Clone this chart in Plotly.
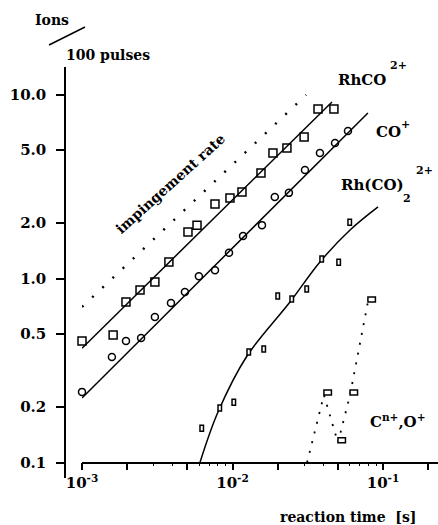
import plotly.graph_objects as go

# ---------------- data ----------------
rhco_t = [0.0010, 0.00161, 0.00196, 0.00243, 0.00305, 0.00378, 0.00506, 0.00581,
          0.00765, 0.00962, 0.01156, 0.01546, 0.01857, 0.0230, 0.0299, 0.0370, 0.0472]
rhco_v = [0.457, 0.493, 0.745, 0.866, 0.957, 1.23, 1.79, 1.95,
          2.54, 2.74, 2.95, 3.74, 4.81, 5.12, 5.87, 8.34, 8.34]

co_t = [0.0010, 0.00158, 0.00196, 0.00247, 0.00305, 0.0039, 0.00483, 0.00598, 0.00765,
        0.00948, 0.01175, 0.0157, 0.0191, 0.0237, 0.0303, 0.0381, 0.0480, 0.0585]
co_v = [0.242, 0.374, 0.457, 0.475, 0.618, 0.736, 0.845, 1.03, 1.11,
        1.38, 1.70, 1.95, 2.77, 2.92, 3.89, 4.81, 5.45, 6.33]

rhco2_t = [0.00608, 0.00801, 0.00993, 0.01248, 0.0157, 0.01945, 0.0241, 0.0303, 0.0381, 0.0494, 0.0585]
rhco2_v = [0.148, 0.1905, 0.205, 0.384, 0.399, 0.774, 0.745, 0.845, 1.23, 1.18, 1.95]

c_t = [0.0405, 0.0502, 0.0604, 0.0794]
c_v = [0.233, 0.128, 0.233, 0.745]

# guide lines
c_path_t = [0.0313, 0.0405, 0.0502, 0.0604, 0.0794]
c_path_v = [0.100, 0.233, 0.128, 0.233, 0.745]

rhco_fit_t = [0.0010, 0.0458]
rhco_fit_v = [0.418, 9.11]
co_fit_t = [0.0010, 0.0794]
co_fit_v = [0.224, 7.93]
imp_t = [0.0010, 0.0308]
imp_v = [0.70, 9.94]
rhco2_fit_t = [0.00608, 0.00801, 0.01248, 0.0241, 0.0381, 0.0604, 0.0927]
rhco2_fit_v = [0.100, 0.188, 0.379, 0.745, 1.23, 1.835, 2.45]

y_ticks = [0.1, 0.2, 0.5, 1, 2, 5, 10]
y_labels = ["0.1", "0.2", "0.5", "1.0", "2.0", "5.0", "10.0"]
x_decades = [1e-3, 1e-2, 1e-1]
x_labels = ["10<sup>-3</sup>", "10<sup>-2</sup>", "10<sup>-1</sup>"]
x_mid = [2e-3, 5e-3, 2e-2, 5e-2, 2e-1]
x_minor = [3e-3, 4e-3, 6e-3, 7e-3, 8e-3, 9e-3, 3e-2, 4e-2, 6e-2, 7e-2, 8e-2, 9e-2]

# ---------------- layout geometry ----------------
W, H = 438, 525
L, R, T, B = 65, 0, 67, 47
PW, PH = W - L - R, H - T - B
def px(x):
    return (x - L) / PW
def py(y):
    return (H - B - y) / PH

FONT = "DejaVu Serif"
BLACK = "black"
X_RANGE = [-3, -3 + 356 / 150.5]
X_DOMAIN = [(82 - L) / PW, 1]
X_POS = py(462.5)

fig = go.Figure()

line_style = dict(color=BLACK, width=1.5)
fig.add_trace(go.Scatter(x=imp_t, y=imp_v, mode="lines",
                         line=dict(color=BLACK, width=2.4, dash="2px,12px"), cliponaxis=False))
fig.add_trace(go.Scatter(x=rhco_fit_t, y=rhco_fit_v, mode="lines", line=line_style, cliponaxis=False))
fig.add_trace(go.Scatter(x=co_fit_t, y=co_fit_v, mode="lines", line=line_style, cliponaxis=False))
fig.add_trace(go.Scatter(x=rhco2_fit_t, y=rhco2_fit_v, mode="lines",
                         line=dict(color=BLACK, width=1.5, shape="spline", smoothing=1.0), cliponaxis=False))
fig.add_trace(go.Scatter(x=c_path_t, y=c_path_v, mode="lines",
                         line=dict(color=BLACK, width=1.8, dash="2px,8px"), cliponaxis=False))

fig.add_trace(go.Scatter(x=rhco_t, y=rhco_v, mode="markers", cliponaxis=False,
                         marker=dict(symbol="square-open", size=8, color=BLACK, line=dict(width=1.5, color=BLACK))))
fig.add_trace(go.Scatter(x=co_t, y=co_v, mode="markers", cliponaxis=False,
                         marker=dict(symbol="circle-open", size=7, color=BLACK, line=dict(width=1.5, color=BLACK))))

# rectangular point markers (tall for Rh(CO)2 2+, wide for C n+/O+) anchored on the data axes
def rect_markers(ts, vs, w, h):
    for t, v in zip(ts, vs):
        fig.add_shape(type="rect", xref="x", yref="y", xsizemode="pixel", ysizemode="pixel",
                      xanchor=t, yanchor=v, x0=-w / 2, x1=w / 2, y0=-h / 2, y1=h / 2,
                      line=dict(color=BLACK, width=1.5), fillcolor="white", layer="above")

rect_markers(rhco2_t, rhco2_v, 7, 12)
rect_markers(c_t, c_v, 15, 10)

fig.update_layout(
    width=W, height=H, margin=dict(l=L, r=R, t=T, b=B),
    paper_bgcolor="white", plot_bgcolor="white", showlegend=False,
    font=dict(family=FONT, size=16, color=BLACK),
    xaxis=dict(type="log", range=X_RANGE, domain=X_DOMAIN,
               anchor="free", position=X_POS, automargin=False,
               showline=True, linecolor=BLACK, linewidth=1.5, showgrid=False, zeroline=False,
               tickmode="array", tickvals=x_decades, ticktext=x_labels,
               ticks="outside", ticklen=7, tickwidth=1.5, tickcolor=BLACK,
               tickfont=dict(family=FONT, size=15, color=BLACK, weight="bold"),
               minor=dict(tickvals=x_minor, ticks="outside", ticklen=3, tickwidth=1, tickcolor=BLACK)),
    xaxis2=dict(type="log", range=X_RANGE, domain=X_DOMAIN, overlaying="x", matches="x",
                anchor="free", position=X_POS, automargin=False,
                showline=False, showgrid=False, zeroline=False, showticklabels=False,
                tickmode="array", tickvals=x_mid,
                ticks="outside", ticklen=6, tickwidth=1.5, tickcolor=BLACK),
    yaxis=dict(type="log", range=[(278.5 - 478) / 184, (278.5 - 67) / 184], domain=[0, 1],
               anchor="free", position=0, automargin=False,
               showline=True, linecolor=BLACK, linewidth=1.5, showgrid=False, zeroline=False,
               tickmode="array", tickvals=y_ticks, ticktext=y_labels,
               ticks="outside", ticklen=8, tickwidth=1.5, tickcolor=BLACK,
               ticklabelstandoff=7,
               tickfont=dict(family=FONT, size=15, color=BLACK, weight="bold")),
)
# an empty trace so the secondary tick axis is drawn
fig.add_trace(go.Scatter(x=[], y=[], xaxis="x2", yaxis="y", showlegend=False))

def ann(text, x, y, size=15, xanchor="center", yanchor="middle", angle=0, bold=True):
    fig.add_annotation(text=text, x=px(x), y=py(y), xref="paper", yref="paper",
                       xanchor=xanchor, yanchor=yanchor, showarrow=False, textangle=angle,
                       font=dict(family=FONT, size=size, color=BLACK,
                                 weight="bold" if bold else "normal"))

ann("Ions", 52, 20, size=14)
ann("100 pulses", 108, 55, size=14)
fig.add_shape(type="line", xref="paper", yref="paper", x0=px(49), y0=py(45), x1=px(85), y1=py(27),
              line=dict(color=BLACK, width=1.5))

ann("RhCO", 362, 80)
ann("2+", 398, 66, size=11)
ann("CO", 388, 132)
ann("+", 405, 124, size=11)
ann("Rh(CO)", 372, 185)
ann("2", 407, 198, size=11)
ann("2+", 424, 170, size=11)
ann("C<sup>n+</sup>,O<sup>+</sup>", 398, 421)
ann("impingement rate", 170, 184, size=14, angle=-42)
ann("reaction time\u00a0\u00a0[s]", 348, 517, size=14)

fig.write_html("out.html", config={"displayModeBar": False},
               post_script="document.body.style.margin='0';")
